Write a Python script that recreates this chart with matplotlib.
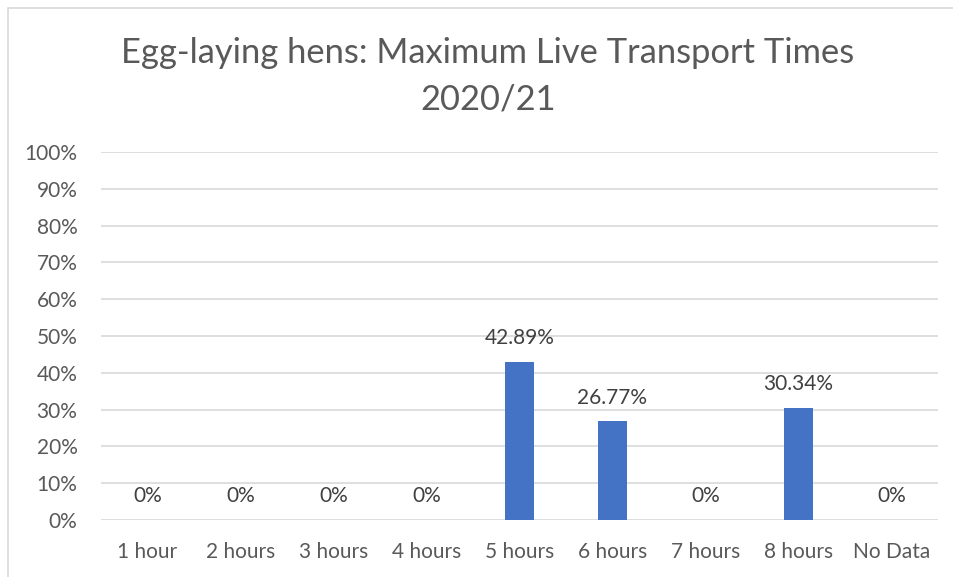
import matplotlib.pyplot as plt
from matplotlib.patches import Rectangle

# data
categories = ['1 hour', '2 hours', '3 hours', '4 hours', '5 hours', '6 hours', '7 hours', '8 hours', 'No Data']
values = [0, 0, 0, 0, 42.89, 26.77, 0, 30.34, 0]
labels = ['0%', '0%', '0%', '0%', '42.89%', '26.77%', '0%', '30.34%', '0%']

plt.rcParams['font.family'] = ['Lato', 'DejaVu Sans']
txt = '#595959'

fig = plt.figure(figsize=(9.54, 5.77), dpi=100)
# light border of the chart area
fig.patches.append(Rectangle((8 / 954, -0.1), 1.2, 1 - 8 / 577 + 0.1, transform=fig.transFigure,
                             fill=False, edgecolor='#d9d9d9', linewidth=1.2))

ax = fig.add_axes([101 / 954, 1 - 520 / 577, 837 / 954, 368 / 577])
x = range(len(categories))
ax.bar(x, [v / 100 for v in values], width=0.31, color='#4472c4', zorder=3)

for i, (v, lab) in enumerate(zip(values, labels)):
    ax.annotate(lab, (i, v / 100), xytext=(0, 10), textcoords='offset points',
                ha='center', va='bottom', fontsize=15, color='#404040')

ax.set_xlim(-0.5, len(categories) - 0.5)
ax.set_ylim(0, 1)
ax.set_yticks([i / 10 for i in range(11)])
ax.set_yticklabels([f'{i * 10}%' for i in range(11)])
ax.set_xticks(list(x))
ax.set_xticklabels(categories)
ax.tick_params(length=0, labelsize=15, labelcolor=txt)
ax.tick_params(axis='y', pad=17)
ax.tick_params(axis='x', pad=16)
ax.grid(axis='y', color='#d9d9d9', linewidth=1.2, zorder=0)
for s in ax.spines.values():
    s.set_visible(False)

fig.text(488 / 954, 1 - 76 / 577, 'Egg-laying hens: Maximum Live Transport Times\n2020/21',
         ha='center', va='center', fontsize=24.8, color=txt, linespacing=1.55)

plt.savefig('out.png', dpi=100)
